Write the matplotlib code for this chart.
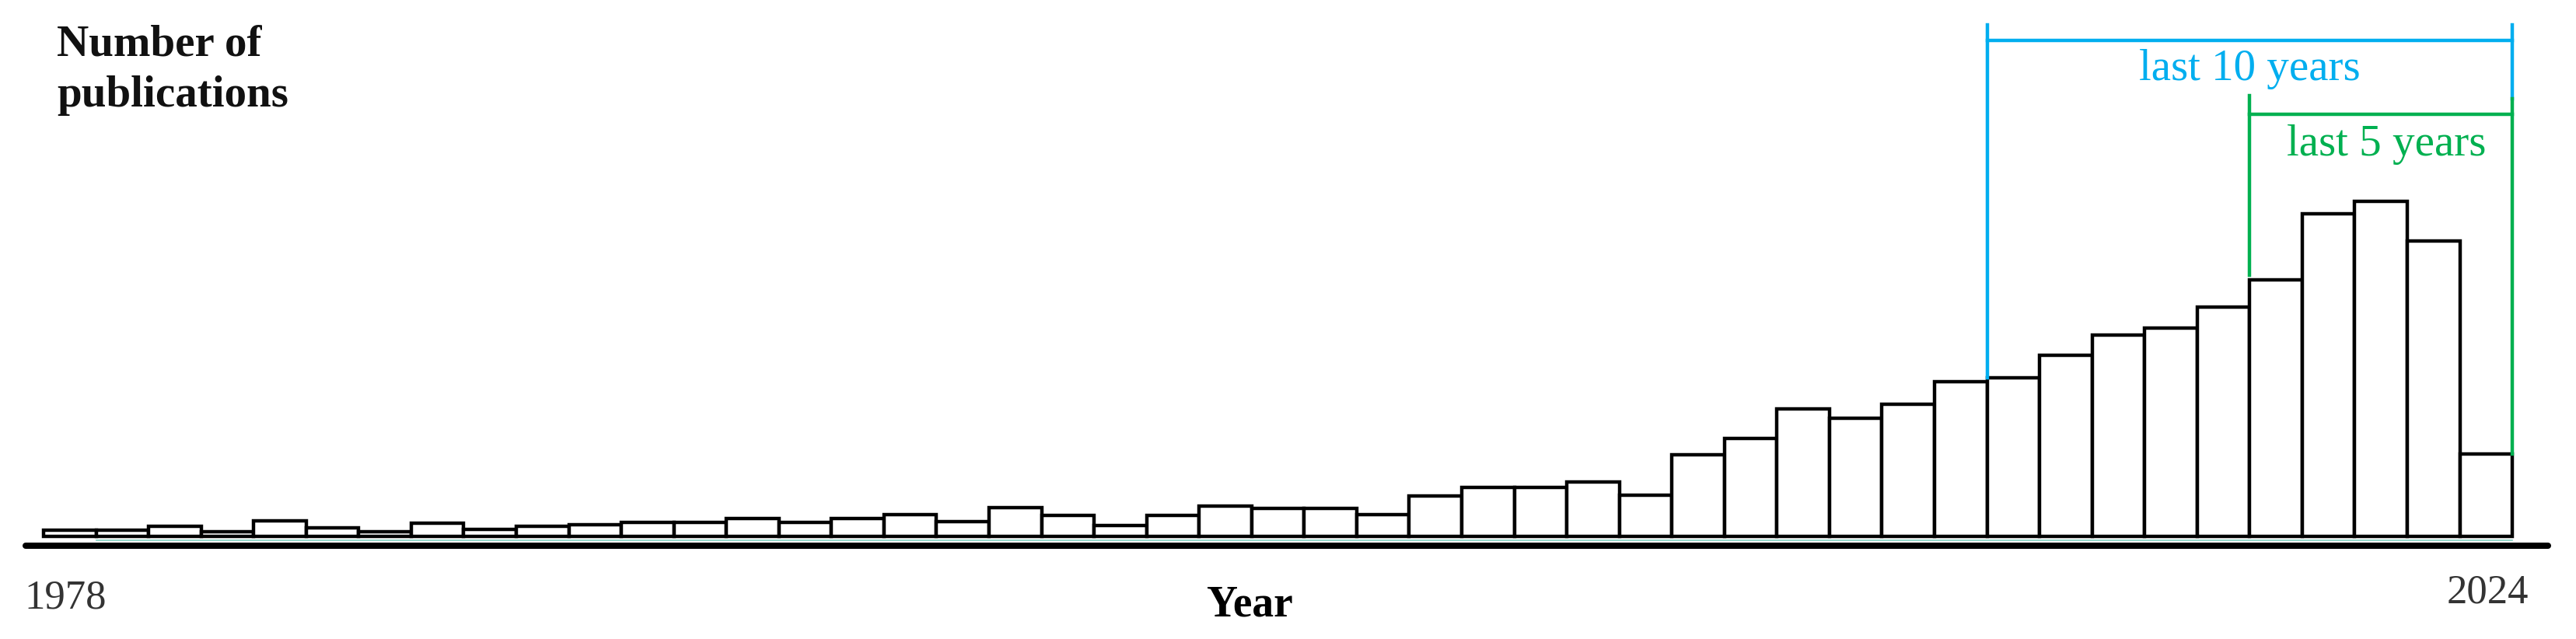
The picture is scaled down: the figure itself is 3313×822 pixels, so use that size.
import matplotlib
matplotlib.use("Agg")
import matplotlib.pyplot as plt

# anos e numero de publicacoes (unidades aproximadas)
years = list(range(1978, 2025))
counts = [8, 8, 13, 6, 20, 11, 6, 17, 9, 13,
          15, 18, 18, 23, 18, 23, 28, 19, 37, 27,
          14, 27, 39, 36, 36, 28, 52, 63, 63, 70,
          53, 105, 126, 164, 152, 170, 199, 204, 233, 259,
          268, 295, 330, 415, 431, 380, 106]

tick_years = [1978, 2024]
label_10 = "last 10 years"
label_5 = "last 5 years"
eixox = "Year"
eixoy = ["Number of", "publications"]

blue = "#00AEEF"
green = "#00B050"
serif = "Liberation Serif"

fig = plt.figure(figsize=(33.13, 8.22), dpi=100)
ax = fig.add_axes([33 / 3313, 120 / 822, 3244 / 3313, 702 / 822])

x0, x1 = 1977.16, 2025.18
ax.set_xlim(x0, x1)
ax.set_ylim(-12, 690)

# barras
ax.bar(years, counts, width=1.0, color="white", edgecolor="black", linewidth=3.2, zorder=3)

# eixo x grosso + linha fina
ax.plot([x0, x1], [-12, -12], color="black", lw=5.8, solid_capstyle="round", clip_on=False, zorder=4)
ax.plot([1978.5, 2024.5], [-5, -5], color="#7fd0c0", lw=1.2, zorder=2)

for s in ax.spines.values():
    s.set_visible(False)
ax.set_xticks([])
ax.set_yticks([])

c = dict(zip(years, counts))

# chave dos ultimos 10 anos
ax.plot([2014.5, 2014.5], [c[2015], 658], color=blue, lw=3.2, zorder=5)
ax.plot([2014.5, 2024.5], [638, 638], color=blue, lw=3.2, zorder=5)
ax.plot([2024.5, 2024.5], [563, 658], color=blue, lw=3.2, zorder=5)

# chave dos ultimos 5 anos
ax.plot([2019.5, 2019.5], [c[2020] + 6, 567], color=green, lw=3.2, zorder=5)
ax.plot([2019.5, 2024.5], [543, 543], color=green, lw=3.2, zorder=5)
ax.plot([2024.5, 2024.5], [c[2024], 563], color=green, lw=3.2, zorder=5)

ax.text(2019.5, 587, label_10, color=blue, fontsize=41, family=serif, ha="center", va="baseline")
ax.text(2022.1, 490, label_5, color=green, fontsize=41, family=serif, ha="center", va="baseline")

# rotulos do eixo x
ax.text(tick_years[0] - 0.08, -92, str(tick_years[0]), fontsize=38, family=serif, color="#333333",
        ha="center", va="baseline")
ax.text(tick_years[1] + 0.03, -85, str(tick_years[1]), fontsize=38, family=serif, color="#333333",
        ha="center", va="baseline")
ax.text(2000.46, -102, eixox, fontsize=40, family=serif, fontweight="bold", ha="center", va="baseline")

# titulo do eixo y
fig.text(73 / 3313, 1 - 72 / 822, eixoy[0], fontsize=41, family=serif, fontweight="bold", color="#111111", va="baseline")
fig.text(73 / 3313, 1 - 137 / 822, eixoy[1], fontsize=41, family=serif, fontweight="bold", color="#111111", va="baseline")

plt.savefig("out.png", dpi=100)
